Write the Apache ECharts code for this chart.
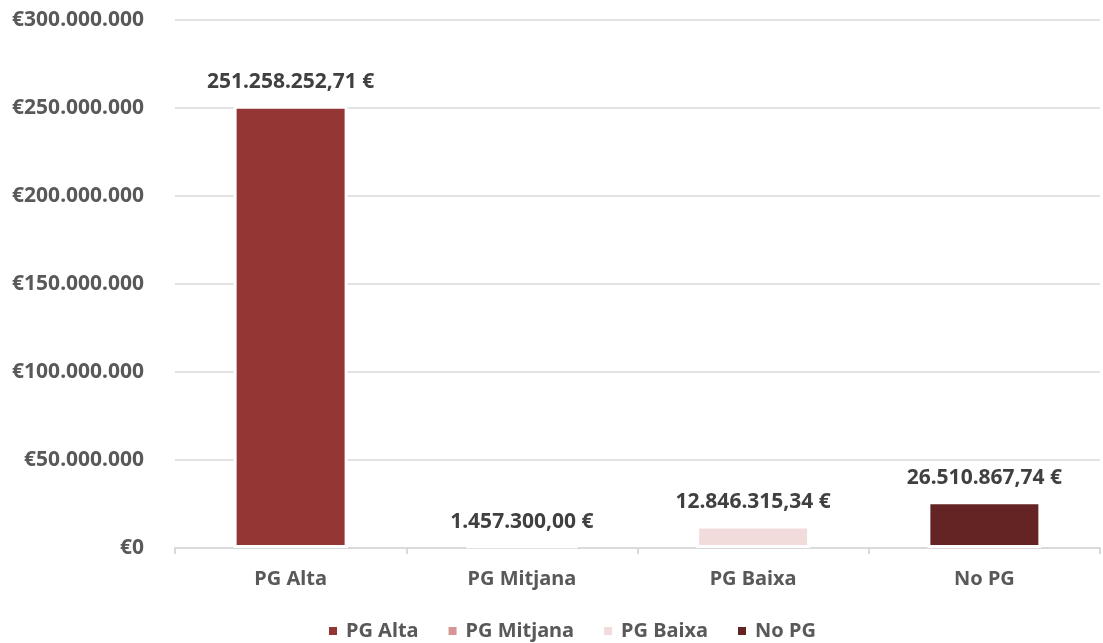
<!DOCTYPE html>
<html><head><meta charset="utf-8">
<script src="https://cdn.jsdelivr.net/npm/echarts@6/dist/echarts.min.js"></script>
<style>html,body{margin:0;padding:0;background:#fff}#c{width:1103px;height:643px}</style>
</head><body><div id="c"></div>
<script>
const categories = ['PG Alta', 'PG Mitjana', 'PG Baixa', 'No PG'];
const seriesNames = ['PG Alta', 'PG Mitjana', 'PG Baixa', 'No PG'];
const values = [251258252.71, 1457300.00, 12846315.34, 26510867.74];
const colors = ['#943634', '#D99594', '#F2DCDB', '#632423'];
const yTicks = { min: 0, max: 300000000, interval: 50000000 };

function fmtThousands(n) {
  return String(n).replace(/\B(?=(\d{3})+(?!\d))/g, '.');
}
function fmtEuro(v) {
  const fixed = v.toFixed(2).split('.');
  return fmtThousands(fixed[0]) + ',' + fixed[1] + ' €';
}
const FONT = 'Noto Sans';
const series = seriesNames.map((name, i) => ({
  name: name,
  type: 'bar',
  barWidth: 114,
  barGap: '-100%',
  data: categories.map((c, j) => j === i ? values[i] : null),
  itemStyle: { color: colors[i], borderColor: '#fff', borderWidth: 3 },
  label: {
    show: true, position: 'top', distance: 13,
    formatter: p => fmtEuro(p.value),
    fontFamily: FONT, fontWeight: 'bold', fontSize: 21, color: '#404040'
  }
}));
const chart = echarts.init(document.getElementById('c'));
chart.setOption({
  animation: false,
  color: colors,
  grid: { left: 175, right: 3, top: 20, bottom: 95 },
  legend: {
    bottom: -3, left: 322, itemWidth: 10, itemHeight: 10, itemGap: 28,
    icon: 'rect',
    textStyle: { fontFamily: FONT, fontWeight: 'bold', fontSize: 20, color: '#595959', padding: [0, 0, 0, 3] },
    data: seriesNames
  },
  xAxis: {
    type: 'category', data: categories,
    axisLine: { lineStyle: { color: '#d9d9d9', width: 2 } },
    axisTick: { show: true, length: 6, lineStyle: { color: '#d9d9d9', width: 2 } },
    axisLabel: { margin: 21, fontFamily: FONT, fontWeight: 'bold', fontSize: 20, color: '#595959' }
  },
  yAxis: {
    type: 'value', min: yTicks.min, max: yTicks.max, interval: yTicks.interval,
    axisLine: { show: false }, axisTick: { show: false },
    splitLine: { lineStyle: { color: '#d9d9d9', width: 1.5 } },
    axisLabel: { margin: 31, fontFamily: FONT, fontWeight: 'bold', fontSize: 21, color: '#595959',
      formatter: v => '€' + fmtThousands(v) }
  },
  series: series
});
</script></body></html>
